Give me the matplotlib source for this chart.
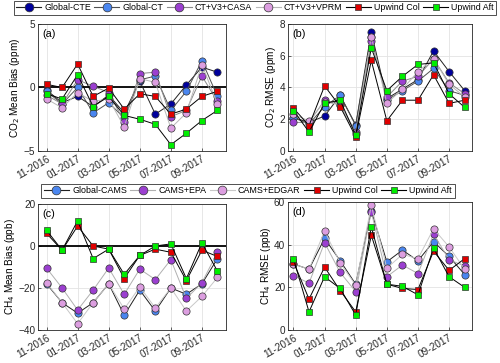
import numpy as np
import matplotlib
matplotlib.use("Agg")
import matplotlib.pyplot as plt
from matplotlib.lines import Line2D

plt.rcParams['font.family'] = ['Liberation Sans', 'DejaVu Sans']
plt.rcParams['font.size'] = 7

months = list(range(12))
tick_pos = [0, 2, 4, 6, 8, 10]
tick_labels = ['11-2016', '01-2017', '03-2017', '05-2017', '07-2017', '09-2017']

# CO2 mean bias (ppm)
co2_bias_cte = [-0.2, -1.2, -0.7, -1.5, -0.6, -2.0, 0.5, -2.1, -1.3, 0.2, 1.6, 1.2]
co2_bias_ct = [-0.3, -1.3, 0.0, -2.0, -1.2, -2.4, 0.6, 0.9, -1.8, -0.3, 2.1, -0.7]
co2_bias_casa = [-0.6, -1.3, 0.6, 0.1, -0.4, -2.7, 1.1, 1.2, -2.3, -1.8, 0.9, -1.1]
co2_bias_vprm = [-0.9, -1.6, -0.4, -1.1, -0.9, -3.1, 0.7, 0.4, -3.2, -2.0, 1.8, -1.3]
co2_bias_col = [0.25, 0.0, 1.85, -0.7, -0.05, -1.7, -0.5, -0.7, -2.1, -1.7, -0.7, -0.3]
co2_bias_aft = [-0.5, -0.9, 1.0, -1.5, -0.7, -2.2, -2.5, -2.9, -4.5, -3.6, -2.6, -1.8]

# CO2 RMSE (ppm)
co2_rmse_cte = [2.1, 1.8, 2.2, 3.5, 1.65, 7.5, 3.3, 3.9, 4.5, 6.3, 5.0, 3.8]
co2_rmse_ct = [2.1, 1.7, 2.8, 3.5, 1.6, 7.2, 3.2, 3.8, 4.4, 5.2, 3.8, 3.5]
co2_rmse_casa = [1.8, 1.8, 3.2, 2.9, 1.2, 6.9, 3.4, 4.4, 4.7, 5.8, 4.3, 3.6]
co2_rmse_vprm = [2.3, 1.9, 3.1, 2.9, 1.1, 7.2, 3.0, 3.9, 5.0, 5.8, 4.2, 3.4]
co2_rmse_col = [2.7, 1.6, 4.1, 2.8, 0.9, 5.7, 1.9, 3.2, 3.2, 4.8, 3.0, 3.2]
co2_rmse_aft = [2.55, 1.2, 3.0, 3.2, 1.0, 6.5, 3.8, 4.7, 5.45, 5.55, 3.6, 2.75]

# CH4 mean bias (ppb)
ch4_bias_cams = [-18, -27, -32, -27, -18, -33, -21, -31, -20, -23, -18, -6]
ch4_bias_epa = [-10.5, -20, -30.5, -21, -10.5, -23, -11, -16, -6.5, -25, -17.5, -3]
ch4_bias_edgar = [-17.5, -27, -37, -27, -18, -30, -19.5, -29.5, -20, -31, -24, -15]
ch4_bias_col = [6, -2, 9.5, 0, -1.5, -15.5, -4.5, -1.5, -3, -16.5, -2, -5]
ch4_bias_aft = [7.5, -2, 12, -6, -1.5, -13.5, -4.5, 0, 1, -15.5, 1.5, -12]

# CH4 RMSE (ppb)
ch4_rmse_cams = [31, 28.5, 43, 32.5, 21.5, 56, 32, 37.5, 32.5, 41.5, 34.5, 26]
ch4_rmse_epa = [25.5, 22, 41, 27, 18, 55.5, 25, 30.5, 26.5, 45, 33, 30]
ch4_rmse_edgar = [31, 28.5, 46.5, 31.5, 21, 58.5, 29, 35.5, 33.5, 47.5, 39, 28.5]
ch4_rmse_col = [32, 14.5, 29.5, 18.5, 8.5, 44.5, 21.5, 19.5, 19, 37, 28, 33.5]
ch4_rmse_aft = [33.5, 8.5, 25, 19.5, 7, 48.5, 21.5, 20.5, 16.5, 38.5, 25, 20]

co2_names = ['Global-CTE', 'Global-CT', 'CT+V3+CASA', 'CT+V3+VPRM', 'Upwind Col', 'Upwind Aft']
co2_face = ['#00009c', '#4a86f0', '#9b3fd0', '#dc9ee0', '#e00000', '#00ee00']
co2_line = ['#202020', '#505050', '#8a8a8a', '#b8b8b8', 'k', 'k']
co2_mark = ['o', 'o', 'o', 'o', 's', 's']

ch4_names = ['Global-CAMS', 'CAMS+EPA', 'CAMS+EDGAR', 'Upwind Col', 'Upwind Aft']
ch4_face = ['#4a86f0', '#9b3fd0', '#dc9ee0', '#e00000', '#00ee00']
ch4_line = ['#202020', '#b0b0b0', '#c8c8c8', 'k', 'k']
ch4_mark = ['o', 'o', 'o', 's', 's']

fig = plt.figure(figsize=(5, 3.63), dpi=100)
ax_a = fig.add_axes([0.076, 0.584, 0.376, 0.350])
ax_b = fig.add_axes([0.576, 0.584, 0.368, 0.350])
ax_c = fig.add_axes([0.076, 0.091, 0.376, 0.347])
ax_d = fig.add_axes([0.576, 0.091, 0.368, 0.352])


def draw(ax, series, faces, lines, marks):
    for ys, fc, lc, m in zip(series, faces, lines, marks):
        ms = 5.2 if m == 'o' else 4.3
        ax.plot(months, ys, color=lc, lw=0.7, marker=m, ms=ms,
                mfc=fc, mec='#333333', mew=0.5)


def style(ax, ylim, yticks, ylabel, tag, xlim):
    ax.set_xlim(*xlim)
    ax.set_ylim(*ylim)
    ax.set_yticks(yticks)
    ax.set_xticks(tick_pos)
    ax.set_xticklabels(tick_labels, rotation=30, ha='right', rotation_mode='anchor')
    ax.grid(True, color='#e3e3e3', lw=0.6)
    ax.set_axisbelow(True)
    ax.tick_params(direction='in', length=2.5, width=0.5, colors='#262626', labelsize=7.2, pad=2)
    for s in ax.spines.values():
        s.set_color('#262626')
        s.set_linewidth(0.6)
    ax.set_ylabel(ylabel, fontsize=7.2, labelpad=1)
    ax.text(0.025, 0.96, tag, transform=ax.transAxes, ha='left', va='top', fontsize=7.8)


draw(ax_a, [co2_bias_cte, co2_bias_ct, co2_bias_casa, co2_bias_vprm, co2_bias_col, co2_bias_aft],
     co2_face, co2_line, co2_mark)
ax_a.axhline(0, color='k', lw=1.3, zorder=1.5)
style(ax_a, (-5, 5), [-5, 0, 5], 'CO$_2$ Mean Bias (ppm)', '(a)', (-0.55, 11.55))

draw(ax_b, [co2_rmse_cte, co2_rmse_ct, co2_rmse_casa, co2_rmse_vprm, co2_rmse_col, co2_rmse_aft],
     co2_face, co2_line, co2_mark)
style(ax_b, (0, 8), [0, 2, 4, 6, 8], 'CO$_2$ RMSE (ppm)', '(b)', (-0.35, 11.47))

draw(ax_c, [ch4_bias_cams, ch4_bias_epa, ch4_bias_edgar, ch4_bias_col, ch4_bias_aft],
     ch4_face, ch4_line, ch4_mark)
ax_c.axhline(0, color='k', lw=1.3, zorder=1.5)
style(ax_c, (-40, 20), [-40, -20, 0, 20], 'CH$_4$ Mean Bias (ppb)', '(c)', (-0.55, 11.55))

draw(ax_d, [ch4_rmse_cams, ch4_rmse_epa, ch4_rmse_edgar, ch4_rmse_col, ch4_rmse_aft],
     ch4_face, ch4_line, ch4_mark)
style(ax_d, (0, 60), [0, 20, 40, 60], 'CH$_4$ RMSE (ppb)', '(d)', (-0.35, 11.47))


def handles(names, faces, lines, marks):
    out = []
    for n, fc, lc, m in zip(names, faces, lines, marks):
        ms = 6.3 if m == 'o' else 5.0
        out.append(Line2D([], [], color=lc, lw=0.8, marker=m, ms=ms,
                          mfc=fc, mec='#333333', mew=0.5, label=n))
    return out


leg_kw = dict(loc='center', fontsize=6.4, frameon=True, fancybox=False, edgecolor='k',
              handlelength=2.8, columnspacing=0.4, handletextpad=0.35,
              borderpad=0.3, borderaxespad=0)
leg1 = fig.legend(handles=handles(co2_names, co2_face, co2_line, co2_mark),
                  bbox_to_anchor=(0.51, 0.978), ncol=6, **leg_kw)
leg1.get_frame().set_linewidth(0.6)
leg2 = fig.legend(handles=handles(ch4_names, ch4_face, ch4_line, ch4_mark),
                  bbox_to_anchor=(0.496, 0.474), ncol=5, **leg_kw)
leg2.get_frame().set_linewidth(0.6)

fig.savefig('out.png', dpi=100)
